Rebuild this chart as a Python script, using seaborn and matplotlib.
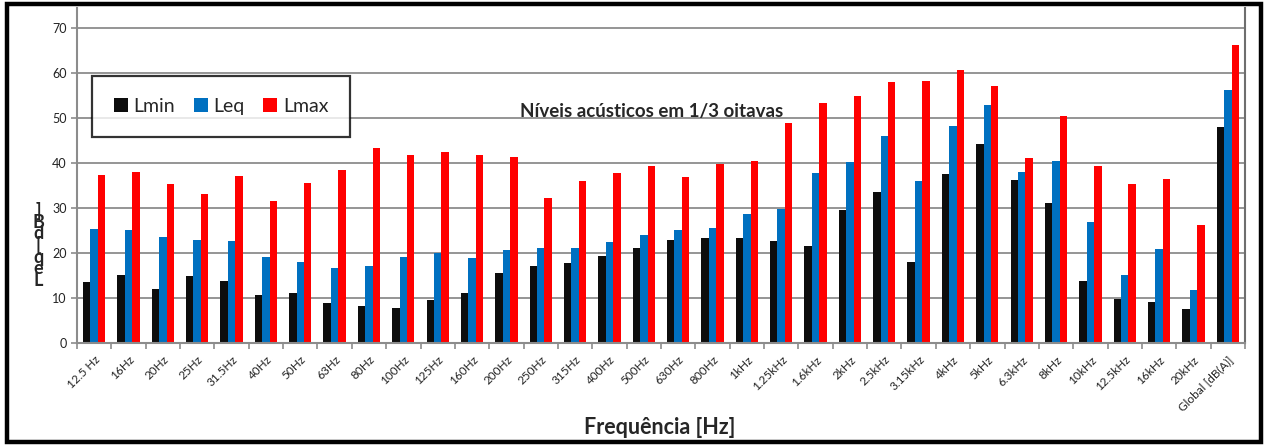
import numpy as np
import pandas as pd
import matplotlib
matplotlib.use("Agg")
import matplotlib.pyplot as plt
import seaborn as sns
from matplotlib.patches import Rectangle, Patch

# data
freqs = ["12.5 Hz", "16Hz", "20Hz", "25Hz", "31.5Hz", "40Hz", "50Hz", "63Hz", "80Hz",
         "100Hz", "125Hz", "160Hz", "200Hz", "250Hz", "315Hz", "400Hz", "500Hz", "630Hz",
         "800Hz", "1kHz", "1.25kHz", "1.6kHz", "2kHz", "2.5kHz", "3.15kHz", "4kHz", "5kHz",
         "6.3kHz", "8kHz", "10kHz", "12.5kHz", "16kHz", "20kHz", "Global [dB(A)]"]
lmin = [13.5, 15.2, 11.9, 14.9, 13.8, 10.7, 11.0, 8.9, 8.3, 7.8, 9.6, 11.0, 15.6, 17.1,
        17.8, 19.3, 21.2, 22.9, 23.3, 23.3, 22.6, 21.6, 29.5, 33.5, 18.1, 37.5, 44.2,
        36.3, 31.2, 13.8, 9.8, 9.0, 7.6, 47.9]
leq = [25.3, 25.1, 23.5, 22.9, 22.6, 19.1, 18.1, 16.6, 17.1, 19.1, 20.0, 18.9, 20.7, 21.0,
       21.2, 22.4, 23.9, 25.1, 25.6, 28.7, 29.8, 37.8, 40.3, 46.0, 35.9, 48.3, 52.9,
       38.0, 40.5, 26.8, 15.2, 20.9, 11.7, 56.2]
lmax = [37.3, 38.0, 35.3, 33.2, 37.1, 31.5, 35.5, 38.4, 43.4, 41.8, 42.4, 41.7, 41.3, 32.2,
        36.0, 37.8, 39.4, 36.9, 39.7, 40.5, 48.9, 53.4, 54.8, 58.0, 58.3, 60.6, 57.1,
        41.1, 50.4, 39.4, 35.3, 36.5, 26.2, 66.2]
series = ["Lmin", "Leq", "Lmax"]
colors = ["#0d0d0d", "#0070c0", "#ff0000"]

df = pd.DataFrame({
    "freq": freqs * 3,
    "valor": lmin + leq + lmax,
    "serie": np.repeat(series, len(freqs)),
})

sns.set_style("white")
plt.rcParams["font.family"] = ["Lato", "DejaVu Sans"]

fig = plt.figure(figsize=(12.66, 4.46), dpi=100)
ax = fig.add_axes([0.0608, 0.2309, 0.9226, 0.7511])

sns.barplot(data=df, x="freq", y="valor", hue="serie", palette=colors,
            width=0.65, saturation=1, edgecolor="none", linewidth=0,
            ax=ax, legend=False)

ax.set_xlim(-0.5, len(freqs) - 0.5)
ax.set_ylim(0, 74.4)
ax.set_yticks(range(0, 71, 10))
ax.yaxis.grid(True, color="#8c8c8c", linewidth=1.3)
ax.set_axisbelow(True)
ax.tick_params(axis="y", labelsize=9, colors="#8c8c8c", labelcolor="#222222",
               length=4, width=1.2, direction="out", left=True)
ax.set_xticks(np.arange(len(freqs)))
ax.set_xticklabels(freqs, rotation=45, ha="right", rotation_mode="anchor",
                   fontsize=8.5, color="#222222")
ax.tick_params(axis="x", length=0, pad=8)
ax.set_xticks(np.arange(-0.5, len(freqs)), minor=True)
ax.tick_params(axis="x", which="minor", length=4, width=1.2, color="#8c8c8c",
               direction="out", bottom=True)
ax.set_xlabel("")
ax.set_ylabel("")
for s in ["left", "bottom"]:
    ax.spines[s].set_color("#8c8c8c")
    ax.spines[s].set_linewidth(1.5)
ax.spines["right"].set_color("#6e6e6e")
ax.spines["right"].set_linewidth(1.5)
ax.spines["top"].set_visible(False)

handles = [Patch(facecolor=c, edgecolor="none", label=s) for s, c in zip(series, colors)]
leg = fig.legend(handles=handles, ncol=3, loc="upper left",
                 bbox_to_anchor=(92 / 1266, 1 - 76 / 446), borderaxespad=0,
                 fontsize=14, handlelength=0.72, handleheight=0.72,
                 handletextpad=0.3, columnspacing=0.95, borderpad=1.12,
                 frameon=True, fancybox=False)
leg.get_frame().set_edgecolor("black")
leg.get_frame().set_linewidth(1.6)

fig.text(652 / 1266, 1 - 112 / 446, "Níveis acústicos em 1/3 oitavas",
         ha="center", va="center", fontsize=13.5, fontweight="bold")
fig.text(660 / 1266, 1 - 427 / 446, "Frequência [Hz]",
         ha="center", va="center", fontsize=15.5, fontweight="bold")
# stacked y label, as it appears in the original
fig.text(38 / 1266, 1 - 245 / 446, "]\nB\nd\n[\nq\ne\nL", ha="center", va="center",
         fontsize=13, fontweight="bold", linespacing=0.6)

fig.patches.append(Rectangle((7 / 1266, 4 / 446), 1254 / 1266, 438 / 446,
                             transform=fig.transFigure, fill=False,
                             edgecolor="black", linewidth=3.2))

fig.savefig("out.png", dpi=100)
